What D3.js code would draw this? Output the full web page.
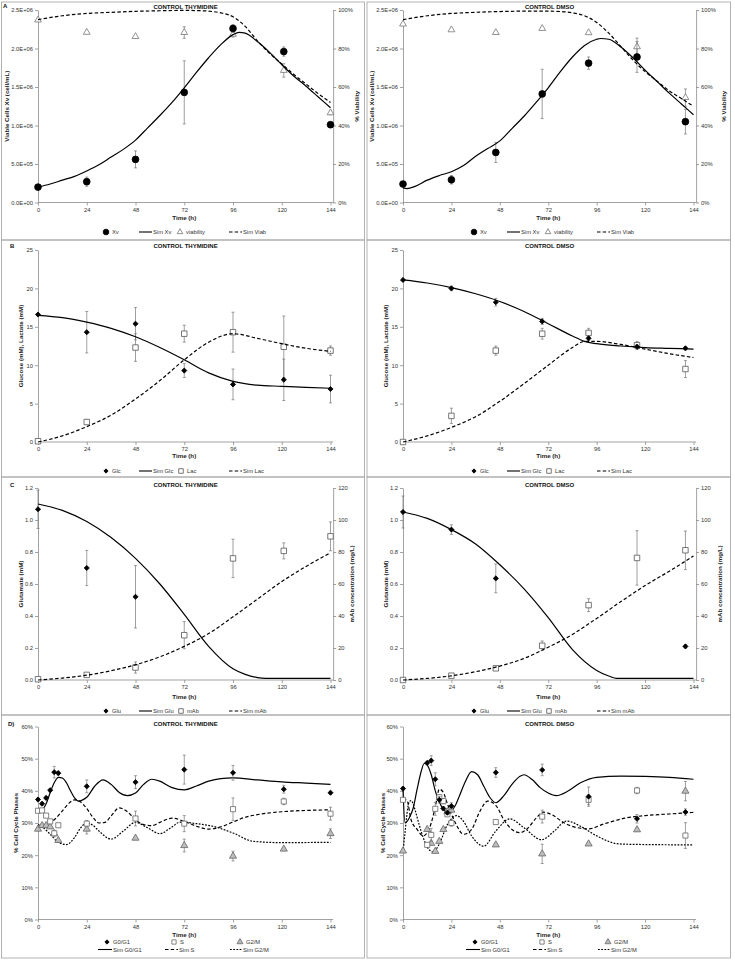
<!DOCTYPE html>
<html><head><meta charset="utf-8">
<script src="https://cdn.jsdelivr.net/npm/d3@7"></script>
<style>body{margin:0;background:#fff}svg{display:block}</style>
</head><body>
<script>
// ---------------- DATA ----------------
const timeTicks = [0,24,48,72,96,120,144];
const panelTitles = ["CONTROL THYMIDINE","CONTROL DMSO"];
const tThy  = [0,24,48,72,96,121,144];
const tDmso = [0,24,46,69,92,116,140];

// A: viable cells (x 1E6 cell/mL) and viability (%)
const xvThy = [0.20,0.27,0.56,1.43,2.26,1.96,1.01];
const xvThyErr = [0.01,0.06,0.11,0.41,0.05,0.06,0];
const viabThy = [94.8,88.4,86.2,88.3,87.4,68.6,46.6];
const viabThyErr = [0,0,0,3,1.5,3.5,1];
const xvDmso = [0.24,0.295,0.65,1.41,1.81,1.89,1.05];
const xvDmsoErr = [0,0.055,0.13,0.32,0.08,0.2,0.16];
const viabDmso = [92.7,89.7,88.3,90.4,88.2,80.9,54.5];
const viabDmsoErr = [0,0,0,0,0,4.5,4.5];
const simXvThyT = [0,6,12,18,24,30,36,42,48,54,60,66,72,78,84,90,96,99,102,108,114,120,126,132,138,144];
const simXvThy  = [0.20,0.24,0.29,0.34,0.41,0.49,0.59,0.69,0.81,0.97,1.13,1.30,1.49,1.69,1.88,2.05,2.18,2.21,2.20,2.09,1.95,1.79,1.64,1.51,1.37,1.23];
const simViabThyT = [0,12,24,36,48,60,72,78,84,90,96,102,108,114,120,126,132,138,144];
const simViabThy  = [95,97,98.2,98.8,99.3,99.6,99.8,99.7,99.4,98.5,96.5,91.5,84,77.5,72,66.5,61.5,56.5,52];
const simXvDmsoT = [0,2,6,12,18,24,30,36,42,48,54,60,66,72,78,84,90,96,98,102,108,114,120,126,132,138,144];
const simXvDmso  = [0.19,0.18,0.21,0.29,0.35,0.40,0.48,0.60,0.70,0.80,0.96,1.12,1.30,1.49,1.70,1.89,2.04,2.12,2.13,2.12,2.02,1.88,1.72,1.57,1.42,1.28,1.14];
const simViabDmsoT = [0,12,24,36,48,60,72,78,84,90,96,102,108,114,120,126,132,138,144];
const simViabDmso  = [95,97,98.2,98.8,99.2,99.4,99.4,99.2,98.5,97,93.5,88,81,74,68,63,58,54,50];

// B: glucose / lactate (mM)
const glcThy = [16.6,14.3,15.4,9.3,7.5,8.1,6.9];
const glcThyErr = [0,2.7,2.1,0.9,2.0,2.7,1.8];
const lacThy = [0.1,2.6,12.3,14.1,14.3,12.4,11.9];
const lacThyErr = [0,0.3,1.8,1.1,2.6,4.0,0.6];
const glcDmso = [21.1,20.0,18.2,15.7,13.5,12.4,12.2];
const glcDmsoErr = [0,0.3,0.5,0.4,0.3,0.3,0.2];
const lacDmso = [0,3.4,11.9,14.1,14.2,12.6,9.5];
const lacDmsoErr = [0,1.0,0.6,0.7,0.6,0.5,1.1];
const simBThyT = [0,12,24,36,48,60,72,84,96,108,120,132,144];
const simGlcThy = [16.5,16.2,15.6,14.8,13.7,12.3,10.7,9.0,7.9,7.4,7.25,7.1,7.0];
const simLacThy = [0,0.8,2.0,3.5,5.6,8.0,10.7,13.0,14.1,13.5,12.8,12.2,11.8];
const simBDmsoT = [0,12,24,36,48,60,72,84,90,96,108,120,132,144];
const simGlcDmso = [21.1,20.7,20.1,19.3,18.3,17.0,15.4,13.8,13.1,12.8,12.5,12.3,12.2,12.1];
const simLacDmso = [0,0.8,1.9,3.3,5.3,7.6,10.0,12.3,13.1,13.1,12.7,12.1,11.5,11.0];

// C: glutamate (mM) / mAb (mg/L)
const gluThyT = [0,24,48];
const gluThy = [1.067,0.70,0.52];
const gluThyErr = [0.12,0.11,0.195];
const mabThy = [0.5,3.2,7.8,28,76,80.7,89.8];
const mabThyErr = [0,1,3.5,8.5,12,5,9];
const gluDmsoT = [0,24,46,140];
const gluDmso = [1.05,0.94,0.635,0.21];
const gluDmsoErr = [0.1,0.03,0.09,0.01];
const mabDmso = [0,2.7,7.3,21.4,46.8,76.3,81.1];
const mabDmsoErr = [0,0.5,0.8,3,4,17,12];
const simGluThyT = [0,12,24,36,48,60,72,84,96,102,108,112,144];
const simGluThy  = [1.10,1.06,0.99,0.89,0.76,0.60,0.41,0.21,0.07,0.035,0.015,0.01,0.01];
const simMabThyT = [0,12,24,36,48,60,72,84,96,108,120,132,144];
const simMabThy  = [0,1.2,3,5.8,9.5,14.5,21,29,39.5,50.5,61.5,71,79.5];
const simGluDmsoT = [0,12,24,36,48,60,72,84,96,102,106,144];
const simGluDmso  = [1.05,1.01,0.94,0.85,0.72,0.57,0.39,0.19,0.06,0.025,0.01,0.01];
const simMabDmsoT = [0,12,24,36,48,60,72,84,96,108,120,132,144];
const simMabDmso  = [0,1.0,2.6,5.2,8.7,13.5,20.5,28.5,38.5,49,59,68,77.5];

// D: cell cycle phases (%)
const ccThyT = [0,2,4,6,8,10,24,48,72,96,121,144];
const g1Thy = [37.3,36.0,37.8,40.2,45.8,45.5,41.4,42.7,46.6,45.6,40.5,39.4];
const g1ThyErr = [0.5,0.5,0.5,0.5,1.8,0.6,2,2,4.5,2.3,1.2,0.5];
const sThy = [33.8,33.9,32.3,30.5,26.8,29.3,29.8,31.4,29.8,34.3,36.7,32.9];
const sThyErr = [0.5,0.5,0.5,0.5,0.5,0.5,1,2.3,2.5,3.5,1,2];
const g2mThy = [28.1,29.2,29.2,28.8,26.7,24.6,28.1,25.3,23.0,19.7,21.9,26.7];
const g2mThyErr = [0.5,0.5,0.5,0.5,1,0.5,1.5,0.5,2,1.5,0.5,1.5];
const ccDmsoT = [0,12,14,16,18,20,22,24,46,69,92,116,140];
const g1Dmso = [40.7,48.7,49.4,43.6,37.2,34.5,33.2,35.3,45.7,46.5,38.2,31.3,33.4];
const g1DmsoErr = [0.5,0.5,1.5,2,1,0.5,0.5,1,1.5,1.8,3,1.3,1];
const sDmso = [37.2,23.2,26.3,34.4,38.0,36.8,32.7,30.0,30.3,32.0,37.2,40.1,26.1];
const sDmsoErr = [0.5,0.5,2,2,0.8,0.8,0.5,1,0.5,2,1.5,1,4];
const g2mDmso = [21.3,28.0,23.7,21.2,24.3,28.0,33.5,34.0,23.2,20.4,23.5,27.9,39.9];
const g2mDmsoErr = [0.5,0.5,0.5,0.5,0.5,0.5,0.5,0.5,0.5,3,0.5,0.5,3];
const simG1ThyT = [0,2,4,6,8,10,12,14,16,18,20,22,24,28,32,36,40,44,48,52,56,60,66,72,78,84,90,96,108,120,132,144];
const simG1Thy  = [34,34.2,36,39.5,42.5,44.2,44,42.5,40,37.8,36.8,37.2,38,41.5,43.4,42,39.5,38.5,39.3,42,43.6,43,41,40.3,41.5,43,43.8,44,43.4,42.8,42.4,42.0];
const simSThyT = [0,4,8,12,15,18,21,24,27,30,33,36,40,44,48,52,56,60,66,72,78,84,90,96,102,108,120,132,144];
const simSThy  = [28.5,29.5,31,33.8,36,37.2,36.5,34.5,31.8,30,30.2,32.2,34.7,33.5,31,29.5,29.2,30.2,31.5,30.5,29,28.1,28.8,30.3,31.8,32.6,33.5,33.9,34.1];
const simG2mThyT = [0,2,6,10,14,18,21,24,27,30,36,42,48,54,60,66,70,78,86,96,106,120,144];
const simG2mThy  = [29.5,28.8,26.5,24,23.3,25.5,28.5,30,29.3,27.5,25,27.5,30.2,28.5,26.7,28.8,30.3,29.8,29,26.9,24.3,23.9,24.0];
const simG1DmsoT = [0,1,2,3,5,7,9,10.5,12,14,16,18,20,22,24,26,28,31,34,37,40,43,46,50,54,58,60,64,68,72,76,82,88,96,108,120,132,144];
const simG1Dmso  = [40.5,30,30.5,31.5,34.5,40.5,46,48.5,48,45,40,36.5,34.2,33.3,33.8,35.5,38.5,43,46,45,41.5,38,36.3,38.5,42,44.5,45,43.5,41,39.3,38.5,40,42.5,44.2,44.6,44.5,44.2,43.6];
const simSDmsoT = [0,2,4,7,10,14,16,18,20,22,26,30,34,38,42,46,50,54,58,62,66,69.5,74,80,86,92,100,110,120,132,144];
const simSDmso  = [37.5,37,31,28,26,30,35,40.5,39.5,36,30,26.5,28,33.5,36.8,35.5,31,28,27,28.5,31.5,33.4,32.5,30,28.6,28.2,29.8,31.5,32.3,32.8,33.3];
const simG2mDmsoT = [0,1,2,3,4,5,6,8,10,12,15,18,22,26.5,30,34,40,46,53,60,68.7,75,81,88,96,107,120,144];
const simG2mDmso  = [21,27,33,36.5,37,36,34,29.5,25.5,22.5,21,23.5,29.5,32.3,30.5,26,22.8,27.5,31.3,28.5,24.8,27.5,30.6,29,26,23.5,23.3,23.2];

// axis ticks
const ticksXv = [0,0.5,1.0,1.5,2.0,2.5];
const ticksPct100 = [0,20,40,60,80,100];
const ticksGlc = [0,5,10,15,20,25];
const ticksGlu = [0,0.2,0.4,0.6,0.8,1.0,1.2];
const ticksMab = [0,20,40,60,80,100,120];
const ticksCycle = [0,10,20,30,40,50,60];

// ---------------- DRAWING ----------------
const FONT = '"Liberation Sans", Arial, Helvetica, sans-serif';
const W = 735, H = 960;
const svg = d3.select("body").append("svg").attr("width", W).attr("height", H)
  .attr("font-family", FONT);
svg.append("rect").attr("width", W).attr("height", H).attr("fill", "#fff");

const colX = [{x0:38, x144:330.5}, {x0:403, x144:693.5}];
const rowY = [{yt:10, yb:202.5, tY:7, xt:15, lg:[232]},
              {yt:250, yb:442, tY:245.5, xt:13.5, lg:[471]},
              {yt:488, yb:680, tY:485, xt:16.5, lg:[711]},
              {yt:726.5, yb:919.5, tY:724, xt:15, lg:[942, 949.5]}];

// panel frames
const boxRows = [[2,240],[240,477],[477,715],[715,958]];
const boxCols = [[1.5,364.5],[367,730.5]];
boxRows.forEach(r => boxCols.forEach(c => svg.append("rect")
  .attr("x", c[0]).attr("y", r[0]).attr("width", c[1]-c[0]).attr("height", r[1]-r[0])
  .attr("fill", "none").attr("stroke", "#a0a0a0").attr("stroke-width", 0.8)));

const sci = v => { const n = v*1e6; if (n === 0) return "0.0E+00";
  const e = Math.floor(Math.log10(n)+1e-9); return (n/Math.pow(10,e)).toFixed(1) + "E+" + String(e).padStart(2,"0"); };
const pct = v => v + "%";

const ST = {
  circ:   {type:d3.symbolCircle, size:36, fill:"#000", stroke:"#000"},
  triA:   {type:d3.symbolTriangle, size:20, fill:"#fff", stroke:"#777"},
  triD:   {type:d3.symbolTriangle, size:22, fill:"#bdbdbd", stroke:"#666"},
  sqB:    {type:d3.symbolSquare, size:30, fill:"#fff", stroke:"#555"},
  sqD:    {type:d3.symbolSquare, size:26, fill:"#fff", stroke:"#666"},
  dia:    {type:d3.symbolSquare, size:13, fill:"#000", stroke:"#000", rot:true}
};

function styleAxis(g){
  g.attr("font-size", null).attr("font-family", null);
  g.selectAll("path,line").attr("stroke", "#8a8a8a").attr("stroke-width", 0.8);
  g.selectAll("text").attr("fill", "#333").attr("font-size", 5.8).attr("font-family", FONT);
}

function marks(g, x, y, T, V, E, st){
  T.forEach((t,i) => {
    const e = E ? E[i] : 0;
    if (e > 0) {
      const xx = x(t), y1 = y(V[i]-e), y2 = y(V[i]+e);
      g.append("line").attr("x1",xx).attr("x2",xx).attr("y1",y1).attr("y2",y2).attr("stroke","#777").attr("stroke-width",0.7);
      [y1,y2].forEach(yy => g.append("line").attr("x1",xx-1.5).attr("x2",xx+1.5).attr("y1",yy).attr("y2",yy).attr("stroke","#777").attr("stroke-width",0.7));
    }
  });
  g.selectAll(null).data(d3.zip(T,V)).join("path")
    .attr("d", d3.symbol(st.type, st.size))
    .attr("transform", d => `translate(${x(d[0])},${y(d[1])})${st.rot ? " rotate(45)" : ""}`)
    .attr("fill", st.fill).attr("stroke", st.stroke).attr("stroke-width", 0.8);
}

function simLine(g, x, y, T, V, dash){
  g.append("path").datum(d3.zip(T,V))
    .attr("d", d3.line().x(d => x(d[0])).y(d => y(d[1])).curve(d3.curveMonotoneX))
    .attr("fill","none").attr("stroke","#000").attr("stroke-width",1.2)
    .attr("stroke-dasharray", dash || null);
}

function panel(o){
  const c = colX[o.col], r = rowY[o.row];
  const x = d3.scaleLinear().domain([0,144]).range([c.x0, c.x144]);
  const xEnd = x(145.3);
  const y = d3.scaleLinear().domain(o.yDom).range([r.yb, r.yt]);
  const g = svg.append("g");

  // x axis
  const gx = g.append("g").attr("transform", `translate(0,${r.yb})`)
    .call(d3.axisBottom(x).tickValues(timeTicks).tickSize(3).tickSizeOuter(0).tickPadding(2));
  gx.select(".domain").remove();
  gx.append("line").attr("x1", c.x0).attr("x2", xEnd).attr("y1",0).attr("y2",0);
  styleAxis(gx);

  // y axis
  const gy = g.append("g").attr("transform", `translate(${c.x0},0)`)
    .call(d3.axisLeft(y).tickValues(o.yTicks).tickFormat(o.yFmt).tickSize(3).tickSizeOuter(0).tickPadding(2));
  styleAxis(gy);

  let y2 = null;
  if (o.y2Dom) {
    y2 = d3.scaleLinear().domain(o.y2Dom).range([r.yb, r.yt]);
    const gy2 = g.append("g").attr("transform", `translate(${xEnd},0)`)
      .call(d3.axisRight(y2).tickValues(o.y2Ticks).tickFormat(o.y2Fmt).tickSize(3).tickSizeOuter(0).tickPadding(2));
    styleAxis(gy2);
    g.append("text").attr("transform", `translate(${o.y2LabX},${(r.yt+r.yb)/2}) rotate(-90)`)
      .attr("text-anchor","middle").attr("dy","0.35em").attr("font-size",6.2).attr("font-weight","bold")
      .attr("fill","#222").text(o.y2Label);
  }

  // titles
  g.append("text").attr("x", (c.x0 + xEnd)/2).attr("y", r.tY).attr("dy","0.35em")
    .attr("text-anchor","middle").attr("font-size",6).attr("font-weight","bold").attr("fill","#111")
    .text(panelTitles[o.col]);
  g.append("text").attr("x", (c.x0 + c.x144)/2).attr("y", r.yb + r.xt).attr("dy","0.35em")
    .attr("text-anchor","middle").attr("font-size",6.2).attr("font-weight","bold").attr("fill","#222")
    .text("Time (h)");
  g.append("text").attr("transform", `translate(${o.yLabX},${(r.yt+r.yb)/2}) rotate(-90)`)
    .attr("text-anchor","middle").attr("dy","0.35em").attr("font-size",6.2).attr("font-weight","bold")
    .attr("fill","#222").text(o.yLabel);
  if (o.letter) g.append("text").attr("x", o.letter[1]).attr("y", o.letter[2]).attr("dy","0.35em")
    .attr("font-size",6).attr("font-weight","bold").attr("fill","#111").text(o.letter[0]);

  o.draw(g, x, y, y2);
}

function legend(col, rowsY, items){
  const off = col === 0 ? 0 : 368;
  const g = svg.append("g");
  items.forEach(it => {
    const yy = rowsY[it.row || 0];
    let tx;
    if (it.st) {
      const st = Object.assign({}, it.st, {size: it.st.size*0.7});
      g.append("path").attr("d", d3.symbol(st.type, st.size))
        .attr("transform", `translate(${off+it.x},${yy})${st.rot ? " rotate(45)" : ""}`)
        .attr("fill", st.fill).attr("stroke", st.stroke).attr("stroke-width",0.8);
      tx = off + it.x + 6;
    } else {
      g.append("line").attr("x1", off+it.x).attr("x2", off+it.x+it.w).attr("y1", yy).attr("y2", yy)
        .attr("stroke","#000").attr("stroke-width",1.1).attr("stroke-dasharray", it.dash || null);
      tx = off + it.x + it.w + 1;
    }
    g.append("text").attr("x", tx).attr("y", yy).attr("dy","0.35em").attr("font-size",5.8)
      .attr("fill","#333").text(it.label);
  });
}

const DASH = "3.5,2.2", SHORT = "1.8,1.4";

// ---- Row A ----
[[0, xvThy, xvThyErr, viabThy, viabThyErr, tThy, simXvThyT, simXvThy, simViabThyT, simViabThy],
 [1, xvDmso, xvDmsoErr, viabDmso, viabDmsoErr, tDmso, simXvDmsoT, simXvDmso, simViabDmsoT, simViabDmso]]
.forEach(([col, xv, xvE, vb, vbE, T, sxT, sx, svT, sv]) => {
  panel({row:0, col, yDom:[0,2.5], yTicks:ticksXv, yFmt:sci, yLabel:"Viable Cells Xv (cell/mL)",
    yLabX: col===0 ? 7 : 372, y2Dom:[0,100], y2Ticks:ticksPct100, y2Fmt:pct, y2Label:"% Viability",
    y2LabX: col===0 ? 357 : 724, letter: col===0 ? ["A",3,6] : null,
    draw:(g,x,y,y2) => {
      marks(g,x,y2,T,vb,vbE,ST.triA);
      marks(g,x,y,T,xv,xvE,ST.circ);
      simLine(g,x,y,sxT,sx,null);
      simLine(g,x,y2,svT,sv,DASH);
    }});
  legend(col, rowY[0].lg, [
    {x:106, st:ST.circ, label:"Xv"},
    {x:139, w:13, label:"Sim Xv"},
    {x:180, st:ST.triA, label:"viability"},
    {x:229, w:13, dash:DASH, label:"Sim Viab"}]);
});

// ---- Row B ----
[[0, glcThy, glcThyErr, lacThy, lacThyErr, tThy, simBThyT, simGlcThy, simLacThy],
 [1, glcDmso, glcDmsoErr, lacDmso, lacDmsoErr, tDmso, simBDmsoT, simGlcDmso, simLacDmso]]
.forEach(([col, gl, glE, la, laE, T, sT, sg, sl]) => {
  panel({row:1, col, yDom:[0,25], yTicks:ticksGlc, yFmt:d3.format("d"), yLabel:"Glucose (mM), Lactate (mM)",
    yLabX: col===0 ? 21 : 386, letter: col===0 ? ["B",10,246] : null,
    draw:(g,x,y) => {
      marks(g,x,y,T,la,laE,ST.sqB);
      marks(g,x,y,T,gl,glE,ST.dia);
      simLine(g,x,y,sT,sg,null);
      simLine(g,x,y,sT,sl,DASH);
    }});
  legend(col, rowY[1].lg, [
    {x:106, st:ST.dia, label:"Glc"},
    {x:139, w:13, label:"Sim Glc"},
    {x:181, st:ST.sqB, label:"Lac"},
    {x:229, w:13, dash:DASH, label:"Sim Lac"}]);
});

// ---- Row C ----
[[0, gluThyT, gluThy, gluThyErr, tThy, mabThy, mabThyErr, simGluThyT, simGluThy, simMabThyT, simMabThy],
 [1, gluDmsoT, gluDmso, gluDmsoErr, tDmso, mabDmso, mabDmsoErr, simGluDmsoT, simGluDmso, simMabDmsoT, simMabDmso]]
.forEach(([col, gT, gv, gE, T, mv, mE, sgT, sg, smT, sm]) => {
  panel({row:2, col, yDom:[0,1.2], yTicks:ticksGlu, yFmt:d3.format(".1f"), yLabel:"Glutamate (mM)",
    yLabX: col===0 ? 21 : 386, y2Dom:[0,120], y2Ticks:ticksMab, y2Fmt:d3.format("d"),
    y2Label:"mAb concentration (mg/L)", y2LabX: col===0 ? 352 : 720,
    letter: col===0 ? ["C",10,485] : null,
    draw:(g,x,y,y2) => {
      marks(g,x,y2,T,mv,mE,ST.sqB);
      marks(g,x,y,gT,gv,gE,ST.dia);
      simLine(g,x,y,sgT,sg,null);
      simLine(g,x,y2,smT,sm,DASH);
    }});
  legend(col, rowY[2].lg, [
    {x:106, st:ST.dia, label:"Glu"},
    {x:139, w:13, label:"Sim Glu"},
    {x:181, st:ST.sqB, label:"mAb"},
    {x:229, w:13, dash:DASH, label:"Sim mAb"}]);
});

// ---- Row D ----
[[0, ccThyT, g1Thy, g1ThyErr, sThy, sThyErr, g2mThy, g2mThyErr, simG1ThyT, simG1Thy, simSThyT, simSThy, simG2mThyT, simG2mThy],
 [1, ccDmsoT, g1Dmso, g1DmsoErr, sDmso, sDmsoErr, g2mDmso, g2mDmsoErr, simG1DmsoT, simG1Dmso, simSDmsoT, simSDmso, simG2mDmsoT, simG2mDmso]]
.forEach(([col, T, g1, g1E, s, sE, g2, g2E, a1, b1, a2, b2, a3, b3]) => {
  panel({row:3, col, yDom:[0,60], yTicks:ticksCycle, yFmt:pct, yLabel:"% Cell Cycle Phases",
    yLabX: col===0 ? 16 : 383, letter: col===0 ? ["D)",8,724] : null,
    draw:(g,x,y) => {
      simLine(g,x,y,a1,b1,null);
      simLine(g,x,y,a2,b2,DASH);
      simLine(g,x,y,a3,b3,SHORT);
      marks(g,x,y,T,g2,g2E,ST.triD);
      marks(g,x,y,T,s,sE,ST.sqD);
      marks(g,x,y,T,g1,g1E,ST.dia);
    }});
  legend(col, rowY[3].lg, [
    {x:107, st:ST.dia, label:"G0/G1"},
    {x:174, st:ST.sqD, label:"S"},
    {x:240, st:ST.triD, label:"G2/M"},
    {x:98, w:14, row:1, label:"Sim G0/G1"},
    {x:165, w:13, row:1, dash:DASH, label:"Sim S"},
    {x:230, w:12, row:1, dash:SHORT, label:"Sim G2/M"}]);
});
</script>
</body></html>
